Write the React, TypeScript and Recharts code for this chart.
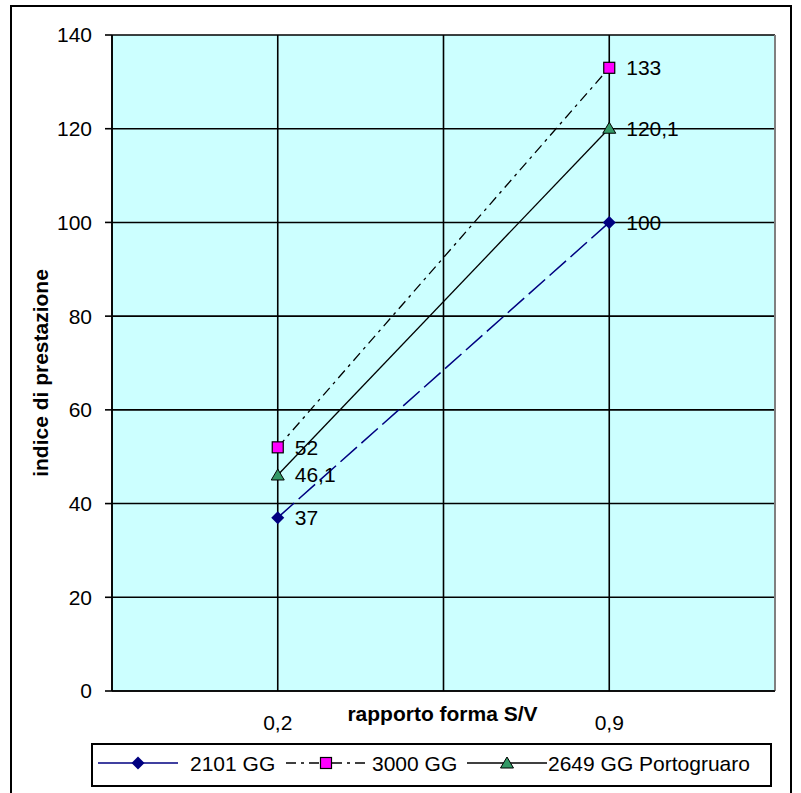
import { LineChart, Line, XAxis, YAxis, CartesianGrid, Legend, LabelList, ReferenceLine } from 'recharts';

const categories = ['0,2', '0,9'];
const gg2101 = [37, 100];
const gg3000 = [52, 133];
const gg2649 = [46.1, 120.1];
const yTicks = [0, 20, 40, 60, 80, 100, 120, 140];
const seriesNames = ['2101 GG', '3000 GG', '2649 GG Portogruaro'];

const FONT = '"Liberation Sans", Arial, sans-serif';

// the two categories sit at 1 and 3 on a 0..4 axis, gridlines in between like the Excel sheet
const xTicks = [0, 1, 2, 3, 4];
const data = categories.map((cat, i) => ({
  pos: 1 + 2 * i,
  cat,
  a: gg2101[i],
  b: gg3000[i],
  c: gg2649[i],
}));

const fmt = (v: number) => String(v).replace('.', ',');

const Diamond = ({ cx, cy }: any) => (
  <path d={`M${cx},${cy - 6.5}L${cx + 6.5},${cy}L${cx},${cy + 6.5}L${cx - 6.5},${cy}Z`} fill="#000080" />
);
const Square = ({ cx, cy }: any) => (
  <rect x={cx - 5.5} y={cy - 5.5} width={11} height={11} fill="#FF00FF" stroke="#000" strokeWidth={1.2} />
);
const Triangle = ({ cx, cy }: any) => (
  <path d={`M${cx},${cy - 6}L${cx + 6.5},${cy + 5}L${cx - 6.5},${cy + 5}Z`} fill="#339966" stroke="#000" strokeWidth={1} />
);

const renderLabel = (props: any) => {
  const { x, y, value } = props;
  return (
    <text x={x + 17} y={y} dominantBaseline="central" fontSize={21} fontFamily={FONT} fill="#000">
      {fmt(value)}
    </text>
  );
};

const legendItems = [
  { name: seriesNames[0], stroke: '#000080', dash: undefined, Marker: Diamond, lineX: 7, textX: 99 },
  { name: seriesNames[1], stroke: '#000', dash: '10 5 3 5', Marker: Square, lineX: 195, textX: 281 },
  { name: seriesNames[2], stroke: '#000', dash: undefined, Marker: Triangle, lineX: 376, textX: 457 },
];

const LegendBox = () => (
  <svg width={681} height={44} style={{ display: 'block' }}>
    <rect x={1} y={1} width={679} height={42} fill="#fff" stroke="#000" strokeWidth={2} />
    {legendItems.map((it) => (
      <g key={it.name}>
        <line x1={it.lineX} x2={it.lineX + 80} y1={20} y2={20} stroke={it.stroke} strokeWidth={1.5} strokeDasharray={it.dash} />
        <it.Marker cx={it.lineX + 40} cy={20} />
        <text x={it.textX} y={20} dominantBaseline="central" fontSize={21} fontFamily={FONT} fill="#000">
          {it.name}
        </text>
      </g>
    ))}
  </svg>
);

export default function App() {
  return (
    <div style={{ position: 'relative', width: 801, height: 793, overflow: 'hidden', background: '#fff' }}>
      <style>{'body{margin:0}'}</style>
      <div
        style={{
          position: 'absolute', left: 10, top: 5, width: 782, height: 800,
          border: '2px solid #000', boxSizing: 'border-box',
        }}
      />
      <LineChart width={801} height={793} data={data} margin={{ top: 35, right: 26, bottom: 72, left: 52 }}>
        <CartesianGrid stroke="#000" strokeWidth={1.6} fill="#CCFFFF" fillOpacity={1} />
        <ReferenceLine x={4} stroke="#808080" strokeWidth={2} />
        <XAxis
          type="number"
          dataKey="pos"
          domain={[0, 4]}
          ticks={xTicks}
          tickFormatter={(v: number) => (v % 2 === 1 ? categories[(v - 1) / 2] : '')}
          tickLine={false}
          tickSize={0}
          tickMargin={24}
          height={30}
          axisLine={{ stroke: '#000', strokeWidth: 1.6 }}
          tick={{ fill: '#000', fontSize: 21, fontFamily: FONT }}
          label={{
            content: ({ viewBox }: any) => (
              <text
                x={viewBox.x + viewBox.width / 2 - 1}
                y={viewBox.y + 30}
                textAnchor="middle"
                fontSize={21}
                fontWeight="bold"
                fontFamily={FONT}
                fill="#000"
              >
                rapporto forma S/V
              </text>
            ),
          }}
        />
        <YAxis
          domain={[0, 140]}
          ticks={yTicks}
          width={60}
          tickSize={7}
          tickMargin={13}
          tickLine={{ stroke: '#000', strokeWidth: 1.6 }}
          axisLine={{ stroke: '#000', strokeWidth: 1.6 }}
          tick={{ fill: '#000', fontSize: 21, fontFamily: FONT }}
          label={{
            content: ({ viewBox }: any) => {
              const cx = viewBox.x - 12;
              const cy = viewBox.y + viewBox.height / 2 + 10;
              return (
                <text
                  x={cx}
                  y={cy}
                  transform={`rotate(-90 ${cx} ${cy})`}
                  textAnchor="middle"
                  dominantBaseline="central"
                  fontSize={21}
                  fontWeight="bold"
                  fontFamily={FONT}
                  fill="#000"
                >
                  indice di prestazione
                </text>
              );
            },
          }}
        />
        <Legend
          layout="horizontal"
          verticalAlign="middle"
          align="center"
          content={() => <LegendBox />}
          wrapperStyle={{ position: 'absolute', left: 91, top: 743, width: 681, height: 44 }}
        />
        <Line
          name={seriesNames[0]}
          dataKey="a"
          stroke="#000080"
          strokeWidth={1.5}
          strokeDasharray="22 6"
          dot={(p: any) => <Diamond key={`a${p.index}`} cx={p.cx} cy={p.cy} />}
          activeDot={false}
          isAnimationActive={false}
        >
          <LabelList dataKey="a" content={renderLabel} />
        </Line>
        <Line
          name={seriesNames[1]}
          dataKey="b"
          stroke="#000"
          strokeWidth={1.3}
          strokeDasharray="10 5 3 5"
          dot={(p: any) => <Square key={`b${p.index}`} cx={p.cx} cy={p.cy} />}
          activeDot={false}
          isAnimationActive={false}
        >
          <LabelList dataKey="b" content={renderLabel} />
        </Line>
        <Line
          name={seriesNames[2]}
          dataKey="c"
          stroke="#000"
          strokeWidth={1.3}
          dot={(p: any) => <Triangle key={`c${p.index}`} cx={p.cx} cy={p.cy} />}
          activeDot={false}
          isAnimationActive={false}
        >
          <LabelList dataKey="c" content={renderLabel} />
        </Line>
      </LineChart>
    </div>
  );
}
